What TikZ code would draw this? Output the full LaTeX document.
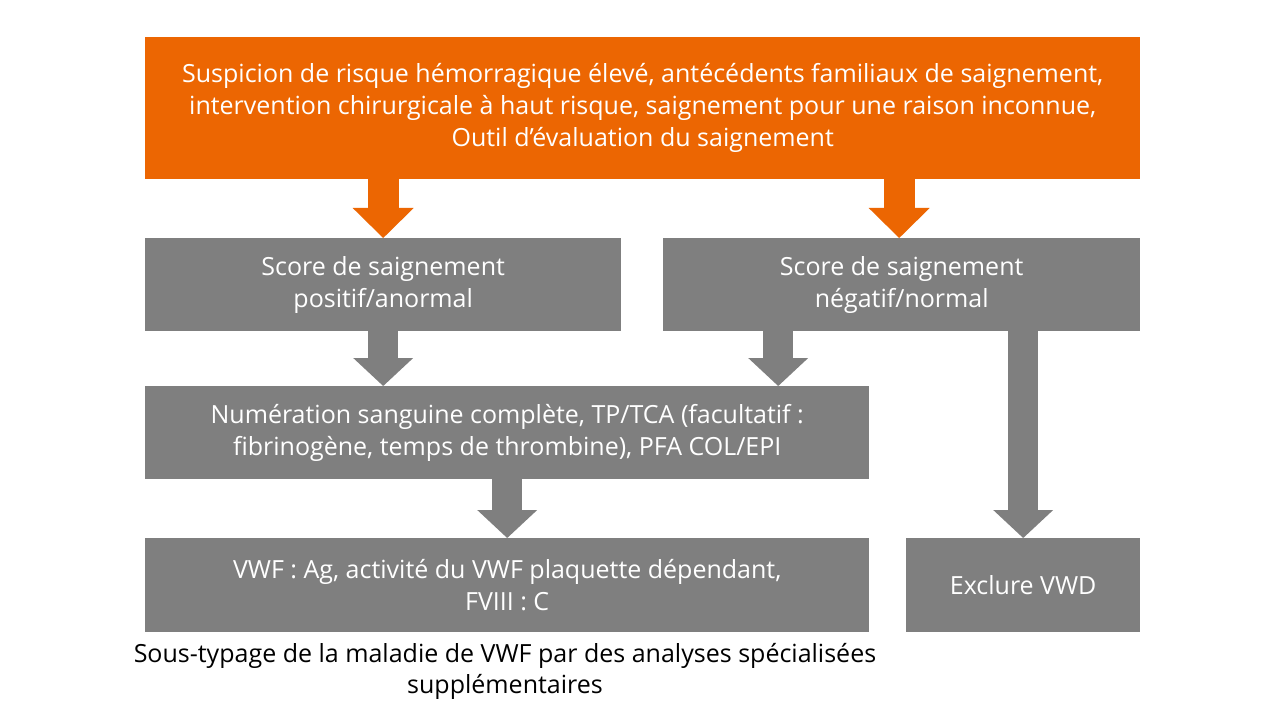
\documentclass[tikz,border=0pt]{standalone}
\usepackage{fontspec}
\setmainfont{Open Sans}
\usetikzlibrary{arrows.meta,calc}
\definecolor{sorange}{RGB}{236,102,2}
\definecolor{sgray}{RGB}{127,127,127}
\begin{document}
\begin{tikzpicture}[x=1bp,y=-1bp,
  box/.style={rectangle, inner sep=0pt, anchor=north west, text=white, align=center,
    font=\fontsize{25bp}{32bp}\selectfont},
  obox/.style={box, fill=sorange},
  gbox/.style={box, fill=sgray},
  oarrow/.style={draw=sorange, line width=31bp, -{Triangle[width=61bp,length=30bp,line width=0pt,fill=sorange]}},
  garrow/.style={draw=sgray, line width=30bp, -{Triangle[width=60bp,length=28bp,line width=0pt,fill=sgray]}},
  caption/.style={align=center, text=black, inner sep=0pt, font=\fontsize{25bp}{31bp}\selectfont}
]
\useasboundingbox (0,0) rectangle (1280,720);
\fill[white] (0,0) rectangle (1280,720);

\node[obox, minimum width=995bp, minimum height=142bp] (top) at (145,37)
  {Suspicion de risque hémorragique élevé, antécédents familiaux de saignement,\\
   intervention chirurgicale à haut risque, saignement pour une raison inconnue,\\
   Outil d’évaluation du saignement};
\node[gbox, minimum width=476bp, minimum height=93bp] (pos) at (145,238)
  {Score de saignement\\positif/anormal};
\node[gbox, minimum width=477bp, minimum height=93bp] (neg) at (663,238)
  {Score de saignement\\négatif/normal};
\node[gbox, minimum width=724bp, minimum height=93bp] (nfs) at (145,386)
  {Numération sanguine complète, TP/TCA (facultatif :\\
   fibrinogène, temps de thrombine), PFA COL/EPI};
\node[gbox, minimum width=724bp, minimum height=94bp] (vwf) at (145,538)
  {VWF : Ag, activité du VWF plaquette dépendant,\\FVIII : C};
\node[gbox, minimum width=234bp, minimum height=94bp] (excl) at (906,538)
  {Exclure VWD};
\node[caption] (cap) at (505,671)
  {Sous-typage de la maladie de VWF par des analyses spécialisées\\supplémentaires};

\draw[oarrow] (pos.north |- top.south) -- (pos.north);
\draw[oarrow] ([xshift=-2.5bp]neg.north |- top.south) -- ([xshift=-2.5bp]neg.north);
\draw[garrow] (pos.south) -- (pos.south |- nfs.north);
\draw[garrow] ([xshift=-123.5bp]neg.south) -- ([xshift=-123.5bp]neg.south |- nfs.north);
\draw[garrow] (nfs.south) -- (vwf.north);
\draw[garrow] (excl.north |- neg.south) -- (excl.north);
\end{tikzpicture}
\end{document}
